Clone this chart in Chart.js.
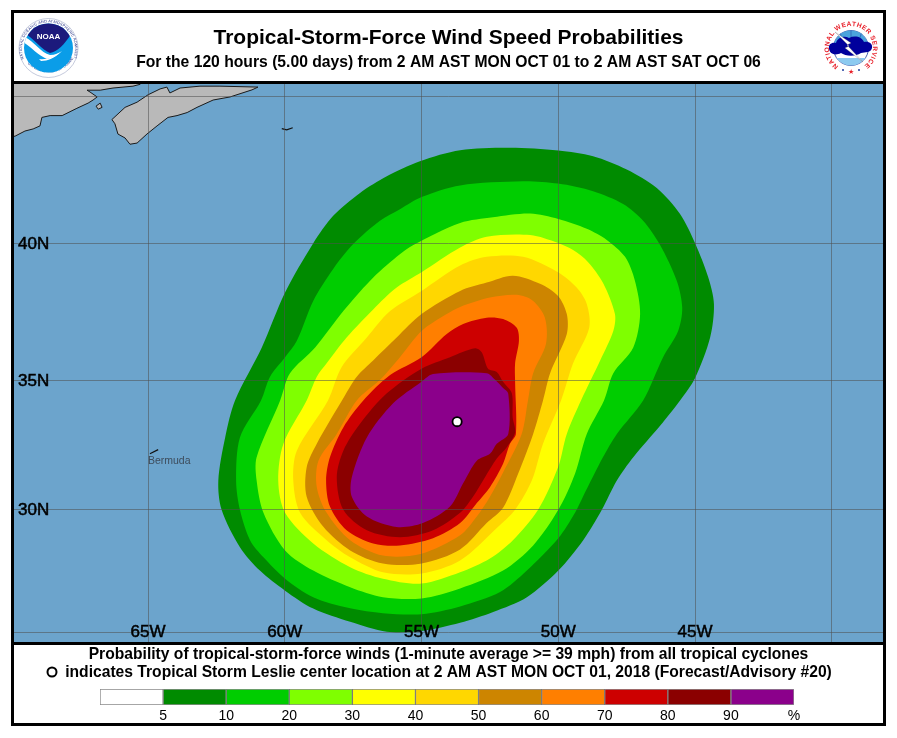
<!DOCTYPE html>
<html>
<head>
<meta charset="utf-8">
<title>Tropical-Storm-Force Wind Speed Probabilities</title>
<script src="https://cdn.jsdelivr.net/npm/chart.js@4"></script>
<style>
  html, body { margin: 0; background: #fff; }
  #wrap { position: relative; width: 897px; height: 738px; overflow: hidden; }
  #mapChart { position: absolute; left: 0; top: 0; }
  #barChart { position: absolute; left: 0; top: 645px; }
  svg { position: absolute; font-family: "Liberation Sans", sans-serif; }
</style>
</head>
<body>
<div id="wrap">
  <canvas id="mapChart" width="897" height="738"></canvas>
  <canvas id="barChart" width="897" height="78"></canvas>

  <svg style="left:17px;top:17px" width="64" height="64" viewBox="0 0 64 64">
    <circle cx="31.5" cy="31" r="29.5" fill="#fff" stroke="#8a94b8" stroke-width="0.5"/>
    <defs>
      <path id="noaaTop" d="M7 42 A26.5 26.5 0 1 1 56 42"/>
      <path id="noaaBottom" d="M7 42 A29 29 0 0 0 56 42"/>
      <clipPath id="noaaDisc"><circle cx="31.5" cy="31" r="24.5"/></clipPath>
    </defs>
    <text font-size="3.8" fill="#1c2a80"><textPath href="#noaaTop" textLength="118">NATIONAL OCEANIC AND ATMOSPHERIC ADMINISTRATION</textPath></text>
    <text font-size="3.6" fill="#1c2a80"><textPath href="#noaaBottom" startOffset="10%">U.S. DEPARTMENT OF COMMERCE</textPath></text>
    <g clip-path="url(#noaaDisc)">
      <rect x="0" y="0" width="64" height="64" fill="#0a9de8"/>
      <path d="M9 17 A24.5 24.5 0 0 1 54 17 C48 27 40 35 33 36 C25 33 17 22 9 17 Z" fill="#1c1a7c"/>
      <path d="M7.5 20 C17 24 24 36 33 38 C38 38 42 36 45 34 C40 39 36 41 30 42 C22 39 14 30 7.5 26 Z" fill="#fff"/>
      <path d="M22 42 C30 43 37 40 43 35 C38 41 31 44 24 44 Z" fill="#fff"/>
    </g>
    <text x="31.5" y="22" font-size="8" font-weight="bold" fill="#fff" text-anchor="middle">NOAA</text>
  </svg>

  <svg style="left:818px;top:15px" width="66" height="66" viewBox="0 0 66 66">
    <defs>
      <path id="nwsRing" d="M20.4 51 A22 22 0 1 1 45.6 51"/>
      <clipPath id="nwsDisc"><circle cx="33" cy="33" r="17.5"/></clipPath>
    </defs>
    <circle cx="33" cy="33" r="17.5" fill="#fff" stroke="#1c3a9c" stroke-width="0.8"/>
    <g clip-path="url(#nwsDisc)">
      <rect x="10" y="14" width="46" height="14" fill="#4aa3dc"/>
      <rect x="10" y="43" width="46" height="9" fill="#8ccaf0"/>
      <path d="M22 16 L24 26 M33 15 L33 26 M44 16 L41 26" stroke="#1c3a9c" stroke-width="0.5"/>
    </g>
    <path d="M11 34 C10 29 14 27 18 28 C19 23 26 20 31 23 C37 20 44 22 46 27 C51 26 55 29 54 33 C53 38 47 37 43 38 C37 42 27 41 23 38 C17 41 12 39 11 34 Z" fill="#00009c"/>
    <path d="M17 17 L33 28 L29 30 L45 47 L27 33 L31 31 Z" fill="#fff" stroke="#666" stroke-width="0.3"/>
    <text font-size="6.6" font-weight="bold" fill="#e8202a"><textPath href="#nwsRing" textLength="110">NATIONAL WEATHER SERVICE</textPath></text>
    <circle cx="25" cy="55" r="1" fill="#1c3a9c"/>
    <circle cx="41" cy="55" r="1" fill="#1c3a9c"/>
    <text x="33" y="59" font-size="7" fill="#e8202a" text-anchor="middle">★</text>
  </svg>
</div>

<script>
// map extent, longitudes west are negative
const mapWest = -69.9;
const mapEast = -38.13;
const mapSouth = 24.6;
const mapNorth = 45.4;

const lonTicks = [-65, -60, -55, -50, -45, -40];
const lonTickLabels = ['65W', '60W', '55W', '50W', '45W', ''];
const latTicks = [25, 30, 35, 40, 45];
const latTickLabels = ['', '30N', '35N', '40N', ''];

// filled probability contours
const contour5Lon = [-61.82,-60.84,-59.99,-58.96,-58.23,-57.25,-56.27,-55.06,-53.59,-51.77,-50.0,-48.73,-47.5,-46.4,-45.55,-45.0,-44.52,-44.31,-44.45,-45.0,-45.55,-46.28,-47.26,-47.86,-48.41,-49.09,-50.0,-51.15,-52.38,-53.59,-55.0,-56.27,-57.61,-58.96,-59.99,-60.91,-61.64,-62.31,-62.43,-62.18];
const contour5Lat = [34.26,36.25,38.26,40.02,40.98,41.77,42.34,42.85,43.22,43.30,43.21,43.02,42.57,41.94,41.04,40.02,38.81,37.84,36.62,35.11,34.26,33.29,32.07,31.16,30.0,28.78,27.55,26.46,25.85,25.40,25.06,25.03,25.44,25.99,26.73,27.55,28.50,30.0,31.16,32.84];

const contour10Lon = [-60.87,-60.54,-59.99,-59.56,-58.96,-58.23,-57.49,-56.52,-55.79,-55.0,-53.59,-51.29,-50.01,-48.73,-47.63,-46.9,-46.28,-45.67,-45.47,-45.62,-46.17,-46.9,-47.86,-48.37,-49.1,-49.39,-50.0,-51.15,-52.13,-53.59,-55.0,-56.41,-57.61,-58.96,-59.99,-60.78,-61.27,-61.64,-61.78,-61.64];
const contour10Lat = [34.26,35.16,35.89,36.50,37.96,39.11,40.0,40.81,41.21,41.63,42.03,42.17,42.09,41.83,41.39,40.81,39.96,38.69,37.71,36.86,35.89,34.26,32.98,32.07,30.52,29.88,28.86,27.55,26.67,26.08,25.76,25.80,26.0,26.46,27.22,28.09,28.78,30.0,31.16,32.84];

const contour20Lon = [-60.17,-59.81,-58.89,-57.86,-56.88,-55.91,-55.3,-53.59,-52.39,-51.03,-50.0,-48.96,-48.23,-47.56,-47.2,-47.01,-47.26,-47.99,-48.33,-48.96,-49.39,-50.0,-50.92,-52.02,-53.59,-55.0,-56.41,-57.61,-58.96,-59.99,-60.78,-61.03,-61.03];
const contour20Lat = [34.26,35.29,36.25,37.59,38.69,39.54,39.96,40.73,40.93,41.06,40.87,40.53,40.14,39.54,38.69,37.48,36.25,35.29,34.26,32.98,31.43,30.0,28.57,27.55,26.82,26.41,26.46,26.87,27.55,28.37,29.88,31.16,32.07];

const contour30Lon = [-59.2,-58.83,-58.47,-57.74,-56.76,-55.91,-55.0,-53.59,-52.62,-51.03,-50.01,-49.46,-48.91,-48.35,-47.93,-47.99,-48.47,-49.17,-49.69,-50.01,-50.74,-51.66,-52.5,-53.59,-55.0,-56.41,-57.61,-58.96,-59.99,-60.24,-60.05];
const contour30Lat = [34.26,35.16,35.66,36.62,37.66,38.44,38.99,39.87,40.25,40.31,40.03,39.78,39.35,38.58,37.48,36.86,35.77,34.26,32.98,31.68,30.0,28.78,28.04,27.48,27.02,27.22,27.69,28.65,29.88,31.16,32.60];

const contour40Lon = [-58.42,-57.92,-57.0,-56.15,-55.0,-53.59,-52.62,-51.29,-50.01,-49.33,-48.96,-48.87,-49.46,-49.9,-50.56,-50.97,-51.58,-52.25,-53.59,-55.0,-56.41,-57.61,-58.47,-59.44,-59.69,-59.56];
const contour40Lat = [34.26,35.52,36.62,37.59,38.32,39.23,39.54,39.54,38.99,38.44,37.85,36.98,35.66,34.26,32.60,31.16,30.0,29.27,27.96,27.43,27.48,28.09,28.78,29.88,31.16,32.33];

const contour50Lon = [-57.91,-57.37,-56.77,-55.91,-55.0,-53.59,-52.62,-51.66,-50.67,-50.01,-49.69,-49.69,-50.3,-50.56,-50.92,-51.47,-52.02,-52.62,-53.59,-55.0,-56.41,-57.61,-58.59,-59.2,-59.2,-58.83];
const contour50Lat = [34.26,35.16,35.77,36.62,37.48,38.32,38.62,38.87,38.58,38.14,37.48,36.75,35.29,34.26,32.98,31.43,30.08,29.47,28.41,27.84,27.84,28.37,29.32,30.52,31.68,32.60];

const contour60Lon = [-57.37,-56.52,-55.79,-55.0,-54.08,-53.59,-52.5,-51.52,-50.92,-50.49,-50.45,-50.92,-51.11,-51.34,-52.02,-52.5,-52.98,-53.59,-55.0,-56.41,-57.61,-58.47,-58.83,-58.77,-58.1];
const contour60Lat = [34.26,35.04,35.89,36.86,37.48,37.74,38.08,38.18,37.96,37.35,36.39,35.29,34.26,32.98,31.48,30.52,29.73,28.98,28.24,28.16,28.78,29.88,30.90,31.94,32.98];

const contour70Lon = [-55.0,-54.08,-53.48,-52.62,-52.02,-51.52,-51.44,-51.58,-51.58,-51.55,-51.77,-52.02,-52.5,-52.98,-53.59,-54.58,-55.79,-56.77,-57.74,-58.35,-58.49,-58.35,-57.86,-57.13,-56.15];
const contour70Lat = [35.89,36.75,37.12,37.35,37.30,36.98,36.50,35.66,34.97,32.98,32.60,31.82,30.90,30.27,29.47,28.86,28.57,28.65,29.18,30.13,31.16,32.07,33.23,34.26,35.22];

const contour80Lon = [-55.0,-53.96,-53.04,-52.8,-52.57,-52.25,-52.02,-51.7,-51.67,-51.58,-51.89,-52.25,-52.68,-53.12,-53.59,-54.58,-55.79,-57.0,-57.86,-58.1,-57.86,-57.25,-56.27];
const contour80Lat = [35.46,35.89,36.22,36.07,35.46,35.34,34.97,34.53,33.62,33.03,32.45,32.02,31.29,30.52,29.88,29.18,28.90,29.18,30.0,31.29,32.33,33.37,34.53];

const contour90Lon = [-51.83,-51.83,-52.25,-52.5,-52.98,-53.48,-53.96,-54.95,-55.91,-57.0,-57.55,-57.55,-57.0,-56.04,-55.0,-54.58,-52.62,-52.31,-52.02];
const contour90Lat = [34.52,32.98,32.60,32.21,31.94,31.05,30.13,29.47,29.31,29.73,30.52,31.29,32.84,34.15,34.97,35.26,35.29,35.04,34.73];

const contourColors = ['#008b00', '#00cd00', '#7fff00', '#ffff00', '#ffd700', '#cd8500', '#ff7f00', '#cd0000', '#8b0000', '#8b008b'];

// land
const mainlandLon = [-70.05,-69.86,-69.5,-69.2,-68.95,-68.88,-68.58,-68.14,-67.6,-67.19,-67.01,-66.86,-67.12,-67.23,-66.75,-66.28,-65.55,-65.29,-65.29,-70.05];
const mainlandLat = [43.66,43.69,43.86,43.93,44.03,44.31,44.37,44.37,44.61,44.78,44.88,44.98,45.14,45.20,45.20,45.27,45.33,45.39,45.52,45.52];
const novaScotiaLon = [-66.32,-65.84,-65.4,-65.0,-64.56,-64.31,-64.2,-63.83,-63.1,-62.37,-60.98,-61.2,-62.0,-62.62,-63.21,-63.57,-63.94,-64.27,-64.67,-65.04,-65.4,-65.66,-65.84,-66.1,-66.21];
const novaScotiaLat = [44.24,44.64,44.81,45.05,45.24,45.30,45.11,45.27,45.33,45.33,45.30,45.21,44.98,44.88,44.64,44.47,44.37,44.31,44.03,43.76,43.46,43.42,43.63,43.76,44.10];
const grandMananLon = [-66.9,-66.75,-66.68,-66.82];
const grandMananLat = [44.68,44.78,44.64,44.58];
const sableLon = [-60.11,-59.93,-59.71];
const sableLat = [43.94,43.90,43.97];
const bermudaLon = [-64.93,-64.63];
const bermudaLat = [32.21,32.37];
const bermudaName = 'Bermuda';

// storm centre
const centerLon = -53.7;
const centerLat = 33.45;

// colour bar
const binLabels = ['5', '10', '20', '30', '40', '50', '60', '70', '80', '90', '%'];
const binColors = ['#ffffff', '#008b00', '#00cd00', '#7fff00', '#ffff00', '#ffd700', '#cd8500', '#ff7f00', '#cd0000', '#8b0000', '#8b008b'];

const titleText = 'Tropical-Storm-Force Wind Speed Probabilities';
const subtitleText = 'For the 120 hours (5.00 days) from 2 AM AST MON OCT 01 to 2 AM AST SAT OCT 06';
const footerFirst = 'Probability of tropical-storm-force winds (1-minute average >= 39 mph) from all tropical cyclones';
const footerSecond = 'indicates Tropical Storm Leslie center location at 2 AM AST MON OCT 01, 2018 (Forecast/Advisory #20)';

const fontFamily = '"Liberation Sans", Arial, sans-serif';

// mercator, the map's y axis is linear in this
function merc(lat) {
  return Math.log(Math.tan(Math.PI / 4 + lat * Math.PI / 360));
}

function mapPoints(lons, lats, closed) {
  const pts = lons.map((lon, i) => ({ x: lon, y: merc(lats[i]) }));
  if (closed) pts.push(pts[0]);
  return pts;
}

// line splines don't wrap around, so the ring overlaps itself a little to keep the seam smooth.
// the seam goes at the southernmost point, the outline is convex there and the overlap stays filled
function ringPoints(lons, lats) {
  const pts = mapPoints(lons, lats, false);
  const start = lats.indexOf(Math.min(...lats));
  const ring = pts.slice(start).concat(pts.slice(0, start));
  return [ring[ring.length - 1], ...ring, ring[0], ring[1]];
}

function contourDataset(lons, lats, color) {
  return {
    data: ringPoints(lons, lats),
    showLine: true,
    fill: 'shape',
    backgroundColor: color,
    borderColor: color,
    borderWidth: 0,
    pointRadius: 0,
    tension: 0.3
  };
}

function landDataset(lons, lats) {
  return {
    data: mapPoints(lons, lats, true),
    showLine: true,
    fill: 'shape',
    backgroundColor: '#b9b9b9',
    borderColor: '#1a1a1a',
    borderWidth: 1,
    pointRadius: 0
  };
}

function markDataset(lons, lats) {
  return {
    data: mapPoints(lons, lats, false),
    showLine: true,
    borderColor: '#111',
    borderWidth: 1.2,
    pointRadius: 0
  };
}

const contours = [
  [contour5Lon, contour5Lat], [contour10Lon, contour10Lat], [contour20Lon, contour20Lat],
  [contour30Lon, contour30Lat], [contour40Lon, contour40Lat], [contour50Lon, contour50Lat],
  [contour60Lon, contour60Lat], [contour70Lon, contour70Lat], [contour80Lon, contour80Lat],
  [contour90Lon, contour90Lat]
];

// the first dataset is painted last
const mapDatasets = [{
  data: mapPoints([centerLon], [centerLat], false),
  backgroundColor: '#fff',
  borderColor: '#000',
  borderWidth: 1.8,
  pointRadius: 4.6
}];
contours.slice().reverse().forEach((c, i) => {
  mapDatasets.push(contourDataset(c[0], c[1], contourColors[contourColors.length - 1 - i]));
});
mapDatasets.push(markDataset(bermudaLon, bermudaLat));
mapDatasets.push(markDataset(sableLon, sableLat));
mapDatasets.push(landDataset(grandMananLon, grandMananLat));
mapDatasets.push(landDataset(novaScotiaLon, novaScotiaLat));
mapDatasets.push(landDataset(mainlandLon, mainlandLat));

const mapFurniture = {
  id: 'mapFurniture',
  beforeDatasetsDraw(chart) {
    const a = chart.chartArea;
    chart.ctx.fillStyle = '#6ca4cc';
    chart.ctx.fillRect(a.left, a.top, a.right - a.left, a.bottom - a.top);
  },
  afterDraw(chart) {
    const ctx = chart.ctx;
    ctx.save();
    ctx.strokeStyle = '#000';
    ctx.lineWidth = 3;
    ctx.strokeRect(12.5, 11.5, 872, 713);
    ctx.beginPath();
    ctx.moveTo(12, 82.5);
    ctx.lineTo(885, 82.5);
    ctx.moveTo(12, 643.5);
    ctx.lineTo(885, 643.5);
    ctx.stroke();

    // little circle in front of the second footer line
    ctx.lineWidth = 2;
    ctx.fillStyle = '#fff';
    ctx.beginPath();
    ctx.arc(52, 672, 4.5, 0, Math.PI * 2);
    ctx.fill();
    ctx.stroke();

    ctx.fillStyle = '#3d4c5c';
    ctx.font = '10.5px ' + fontFamily;
    ctx.textAlign = 'left';
    ctx.textBaseline = 'middle';
    ctx.fillText(bermudaName, chart.scales.x.getPixelForValue(bermudaLon[0]) - 2, chart.scales.y.getPixelForValue(merc(bermudaLat[0])) + 7);
    ctx.restore();
  }
};

new Chart(document.getElementById('mapChart'), {
  type: 'scatter',
  data: { datasets: mapDatasets },
  plugins: [mapFurniture],
  options: {
    responsive: false,
    animation: false,
    devicePixelRatio: 1,
    layout: { padding: { left: 14, right: 14, top: 0, bottom: 96 } },
    plugins: {
      legend: { display: false },
      tooltip: { enabled: false },
      title: {
        display: true,
        text: titleText,
        color: '#000',
        font: { family: fontFamily, size: 21, weight: 'bold', lineHeight: 1.2 },
        padding: { top: 26, bottom: 2.5 }
      },
      subtitle: {
        display: true,
        text: subtitleText,
        color: '#000',
        font: { family: fontFamily, size: 15.7, weight: 'bold', lineHeight: 1.2 },
        padding: { top: 0, bottom: 11.46 }
      }
    },
    scales: {
      x: {
        type: 'linear',
        min: mapWest,
        max: mapEast,
        afterFit(scale) { scale.height = 0; },
        afterBuildTicks(scale) { scale.ticks = lonTicks.map(v => ({ value: v })); },
        border: { display: false },
        grid: { color: 'rgba(80,80,80,0.55)', lineWidth: 1, z: 1, drawTicks: false },
        ticks: {
          z: 2,
          mirror: true,
          color: '#000',
          textStrokeColor: '#000',
          textStrokeWidth: 0.5,
          font: { family: fontFamily, size: 17 },
          padding: -1,
          maxRotation: 0,
          autoSkip: false,
          callback(v) { return lonTickLabels[lonTicks.indexOf(v)]; }
        }
      },
      y: {
        type: 'linear',
        min: merc(mapSouth),
        max: merc(mapNorth),
        afterFit(scale) { scale.width = 0; },
        afterBuildTicks(scale) { scale.ticks = latTicks.map(v => ({ value: merc(v) })); },
        border: { display: false },
        grid: { color: 'rgba(80,80,80,0.55)', lineWidth: 1, z: 1, drawTicks: false },
        ticks: {
          z: 2,
          mirror: true,
          color: '#000',
          textStrokeColor: '#000',
          textStrokeWidth: 0.5,
          font: { family: fontFamily, size: 17 },
          padding: 4,
          autoSkip: false,
          callback(v, i) { return latTickLabels[i]; }
        }
      }
    }
  }
});

new Chart(document.getElementById('barChart'), {
  type: 'bar',
  data: {
    labels: ['probability'],
    datasets: binColors.map((color, i) => ({
      data: [[i, i + 1]],
      backgroundColor: color,
      borderColor: i === 0 ? '#888' : 'rgba(50,50,50,0.55)',
      borderWidth: 1,
      borderSkipped: false,
      grouped: false,
      barPercentage: 1,
      categoryPercentage: 1
    }))
  },
  options: {
    indexAxis: 'y',
    responsive: false,
    animation: false,
    devicePixelRatio: 1,
    plugins: {
      legend: { display: false },
      tooltip: { enabled: false },
      title: {
        display: true,
        text: footerFirst,
        color: '#000',
        font: { family: fontFamily, size: 15.65, weight: 'bold', lineHeight: 18 / 15.65 },
        padding: { top: 1, bottom: 0 }
      },
      subtitle: {
        display: true,
        text: footerSecond,
        color: '#000',
        font: { family: fontFamily, size: 15.65, weight: 'bold', lineHeight: 18 / 15.65 },
        padding: { top: 0, bottom: 7 }
      }
    },
    scales: {
      x: {
        type: 'linear',
        min: 0,
        max: binLabels.length,
        afterFit(scale) { scale.height = 18; },
        afterBuildTicks(scale) { scale.ticks = binLabels.map((l, i) => ({ value: i + 1 })); },
        border: { display: false },
        grid: { display: false, drawTicks: false },
        ticks: {
          color: '#000',
          font: { family: fontFamily, size: 14 },
          padding: 3,
          maxRotation: 0,
          autoSkip: false,
          callback(v) { return binLabels[v - 1]; }
        }
      },
      // empty side axes, they only inset the bar from the canvas edges
      y: {
        display: true,
        afterFit(scale) { scale.width = 100; },
        border: { display: false },
        grid: { display: false },
        ticks: { display: false }
      },
      yRight: {
        type: 'linear',
        position: 'right',
        display: true,
        afterFit(scale) { scale.width = 103; },
        border: { display: false },
        grid: { display: false },
        ticks: { display: false }
      }
    }
  }
});
</script>
</body>
</html>
